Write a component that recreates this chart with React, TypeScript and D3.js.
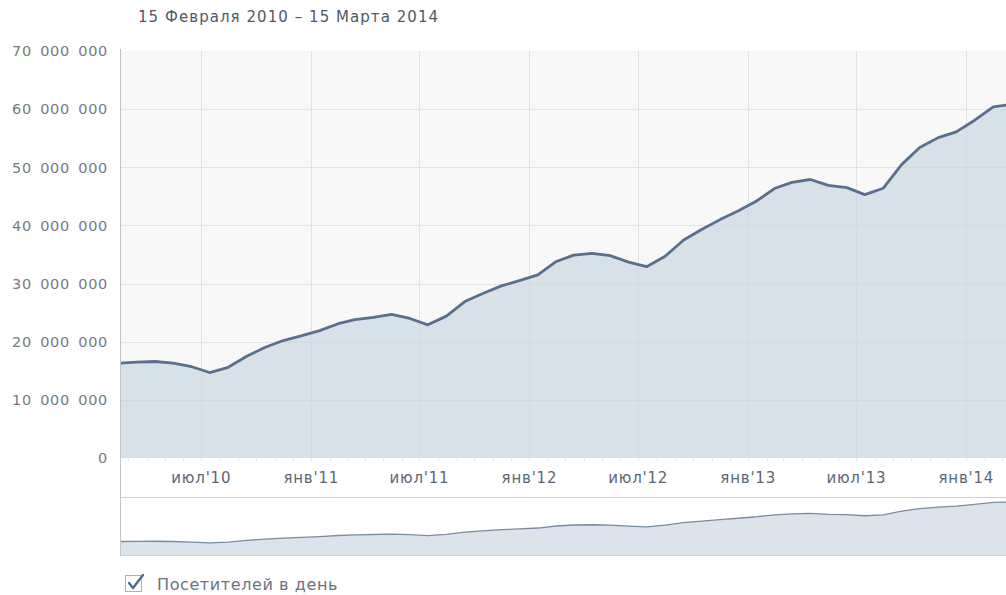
import React from "react";
import * as d3 from "d3";

// ---- data ----
const title = "15 Февраля 2010 – 15 Марта 2014";
const legendLabel = "Посетителей в день";
const rangeStart = "2010-02-15";
const rangeEnd = "2014-03-15";

const pointDates = [
  "2010-02-15", "2010-03-15", "2010-04-15", "2010-05-15", "2010-06-15", "2010-07-15",
  "2010-08-15", "2010-09-15", "2010-10-15", "2010-11-15", "2010-12-15",
  "2011-01-15", "2011-02-15", "2011-03-15", "2011-04-15", "2011-05-15", "2011-06-15",
  "2011-07-15", "2011-08-15", "2011-09-15", "2011-10-15", "2011-11-15", "2011-12-15",
  "2012-01-15", "2012-02-15", "2012-03-15", "2012-04-15", "2012-05-15", "2012-06-15",
  "2012-07-15", "2012-08-15", "2012-09-15", "2012-10-15", "2012-11-15", "2012-12-15",
  "2013-01-15", "2013-02-15", "2013-03-15", "2013-04-15", "2013-05-15", "2013-06-15",
  "2013-07-15", "2013-08-15", "2013-09-15", "2013-10-15", "2013-11-15", "2013-12-15",
  "2014-01-15", "2014-02-15", "2014-03-15",
];

// visitors per day, millions
const visitorsMln = [
  16.3, 16.5, 16.6, 16.3, 15.7, 14.7, 15.6, 17.5, 19.0, 20.2, 21.0,
  21.9, 23.1, 23.8, 24.2, 24.7, 24.0, 22.9, 24.4, 26.9, 28.3, 29.6, 30.5,
  31.5, 33.8, 34.9, 35.2, 34.8, 33.7, 32.9, 34.7, 37.5, 39.3, 41.0, 42.5,
  44.2, 46.4, 47.4, 47.9, 46.9, 46.5, 45.3, 46.4, 50.5, 53.4, 55.1, 56.1,
  58.1, 60.4, 60.8,
];

const yTickValues = [0, 10000000, 20000000, 30000000, 40000000, 50000000, 60000000, 70000000];
const xTickDates = [
  "2010-07-01", "2011-01-01", "2011-07-01", "2012-01-01",
  "2012-07-01", "2013-01-01", "2013-07-01", "2014-01-01",
];
const xTickLabels = ["июл'10", "янв'11", "июл'11", "янв'12", "июл'12", "янв'13", "июл'13", "янв'14"];

// ---- layout ----
const W = 1006;
const H = 595;
const left = 120;
const right = 1010;
const top = 51;
const bottom = 458;
const navTop = 497;
const navBottom = 556;
const navLineTop = 502;
const FONT = "'DejaVu Sans', Verdana, sans-serif";

const parse = d3.timeParse("%Y-%m-%d");

export default function App() {
  const data = pointDates.map((d, i) => ({ date: parse(d) as Date, value: visitorsMln[i] * 1e6 }));

  const x = d3.scaleTime()
    .domain([parse(rangeStart) as Date, parse(rangeEnd) as Date])
    .range([left, right]);
  const y = d3.scaleLinear().domain([0, 70000000]).range([bottom, top]);
  const yNav = d3.scaleLinear()
    .domain([0, d3.max(data, (d) => d.value) as number])
    .range([navBottom, navLineTop]);

  const area = d3.area<{ date: Date; value: number }>()
    .x((d) => x(d.date))
    .y0(bottom)
    .y1((d) => y(d.value));
  const line = d3.line<{ date: Date; value: number }>()
    .x((d) => x(d.date))
    .y((d) => y(d.value));
  const navArea = d3.area<{ date: Date; value: number }>()
    .x((d) => x(d.date))
    .y0(navBottom)
    .y1((d) => yNav(d.value));
  const navLine = d3.line<{ date: Date; value: number }>()
    .x((d) => x(d.date))
    .y((d) => yNav(d.value));

  const fmt = (v: number) => d3.format(",")(v).replace(/,/g, " ");
  const minorTicks = d3.timeMonth.range(parse(rangeStart) as Date, parse(rangeEnd) as Date);

  return (
    <svg
      width={W}
      height={H}
      style={{ position: "absolute", left: 0, top: 0, display: "block", background: "#fff" }}
    >
      <defs>
        <clipPath id="clip">
          <rect x={0} y={0} width={W} height={H} />
        </clipPath>
      </defs>
      <g clipPath="url(#clip)">
        {/* title */}
        <text x={138} y={22} fontFamily={FONT} fontSize={15} letterSpacing={1.05} fill="#505a66">
          {title}
        </text>

        {/* plot background */}
        <rect x={left} y={top} width={W - left} height={bottom - top} fill="#f8f8f8" />

        {/* grid */}
        {yTickValues.filter((v) => v > 0 && v < 70000000).map((v) => (
          <line key={"gy" + v} x1={left} x2={W} y1={Math.round(y(v)) + 0.5} y2={Math.round(y(v)) + 0.5} stroke="#e4e4e4" />
        ))}
        {xTickDates.map((d) => {
          const xx = Math.round(x(parse(d) as Date)) + 0.5;
          return <line key={"gx" + d} x1={xx} x2={xx} y1={top} y2={bottom} stroke="#e2e2e2" />;
        })}

        {/* area + line */}
        <path d={area(data) as string} fill="#c9d4e0" fillOpacity={0.68} />
        <path d={line(data) as string} fill="none" stroke="#5a6f8e" strokeWidth={2.8} strokeLinejoin="round" />

        {/* minor ticks */}
        {minorTicks.map((d, i) => {
          const xx = Math.round(x(d)) + 0.5;
          return <line key={"mt" + i} x1={xx} x2={xx} y1={bottom} y2={bottom + 3} stroke="#e6e6e6" />;
        })}

        {/* y labels */}
        {yTickValues.map((v) => (
          <text
            key={"yl" + v}
            x={108}
            y={y(v)}
            dy="0.36em"
            textAnchor="end"
            fontFamily={FONT}
            fontSize={14.5}
            letterSpacing={0.7}
            wordSpacing={3}
            fill="#777b80"
          >
            {fmt(v)}
          </text>
        ))}

        {/* x labels */}
        {xTickDates.map((d, i) => (
          <text
            key={"xl" + d}
            x={x(parse(d) as Date)}
            y={483}
            textAnchor="middle"
            fontFamily={FONT}
            fontSize={15}
            letterSpacing={0.8}
            fill="#5b6673"
          >
            {xTickLabels[i]}
          </text>
        ))}

        {/* navigator */}
        <line x1={left} x2={W} y1={navTop + 0.5} y2={navTop + 0.5} stroke="#cfcfcf" />
        <path d={navArea(data) as string} fill="#dde3ea" />
        <path d={navLine(data) as string} fill="none" stroke="#7b8ca2" strokeWidth={1.3} />
        <line x1={left} x2={W} y1={navBottom - 0.5} y2={navBottom - 0.5} stroke="#c9d1da" />

        {/* left axis line */}
        <line x1={left + 0.5} x2={left + 0.5} y1={top - 2} y2={navBottom} stroke="#c4c4c4" />

        {/* legend */}
        <rect x={125.5} y={575.5} width={16} height={16} fill="#fff" stroke="#a6b1bd" />
        <path d="M129 583 L133 588 L143 575" fill="none" stroke="#4e6d90" strokeWidth={2.4} strokeLinecap="round" strokeLinejoin="round" />
        <text x={157} y={590} fontFamily={FONT} fontSize={16} letterSpacing={0.6} fill="#6b737c">
          {legendLabel}
        </text>
      </g>
    </svg>
  );
}
